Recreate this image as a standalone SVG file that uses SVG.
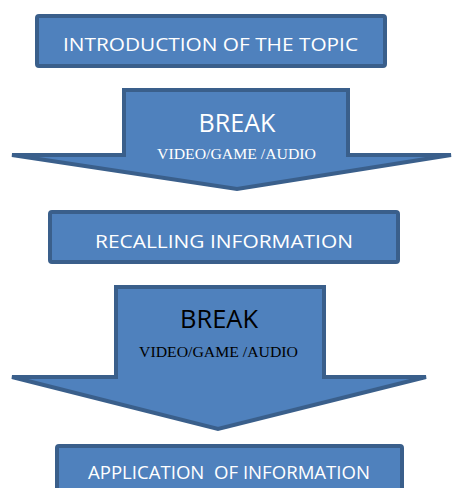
<svg xmlns="http://www.w3.org/2000/svg" width="453" height="488" viewBox="0 0 453 488">
<style>
.shape{fill:#4F81BD;stroke:#3A5F8B;stroke-width:4;stroke-linejoin:miter}
.lbl{font-family:"Open Sans","Liberation Sans",sans-serif;fill:#fff;text-anchor:middle}
.sub{font-family:"Liberation Serif",serif;text-anchor:middle}
</style>
<rect width="453" height="488" fill="#fff"/>
<g id="intro">
<rect class="shape" x="37" y="16" width="348" height="50" rx="2"/>
<text class="lbl" x="210.5" y="51" font-size="19" textLength="295" lengthAdjust="spacingAndGlyphs">INTRODUCTION OF THE TOPIC</text>
</g>
<g id="break1">
<polygon class="shape" points="124,90 348,90 348,155 451,155 237,189 12,155 124,155"/>
<text class="lbl" x="237" y="132" font-size="25" textLength="77" lengthAdjust="spacingAndGlyphs">BREAK</text>
<text class="sub" x="236.5" y="159" font-size="14" fill="#fff" textLength="159" lengthAdjust="spacingAndGlyphs">VIDEO/GAME /AUDIO</text>
</g>
<g id="recall">
<rect class="shape" x="50" y="212" width="348" height="50" rx="2"/>
<text class="lbl" x="224" y="248" font-size="19" textLength="258" lengthAdjust="spacingAndGlyphs">RECALLING INFORMATION</text>
</g>
<g id="break2">
<polygon class="shape" points="116,287 324,287 324,377 426,377 218,429 12,377 116,377"/>
<text class="lbl" x="219" y="328" font-size="25" fill="#000" style="fill:#000" textLength="78" lengthAdjust="spacingAndGlyphs">BREAK</text>
<text class="sub" x="218.5" y="357" font-size="14" fill="#000" textLength="159" lengthAdjust="spacingAndGlyphs">VIDEO/GAME /AUDIO</text>
</g>
<g id="apply">
<rect class="shape" x="57" y="446" width="345" height="50" rx="2"/>
<text class="lbl" x="229" y="479" font-size="19" textLength="282" lengthAdjust="spacingAndGlyphs" xml:space="preserve">APPLICATION  OF INFORMATION</text>
</g>
<g id="connectors"></g>
</svg>
